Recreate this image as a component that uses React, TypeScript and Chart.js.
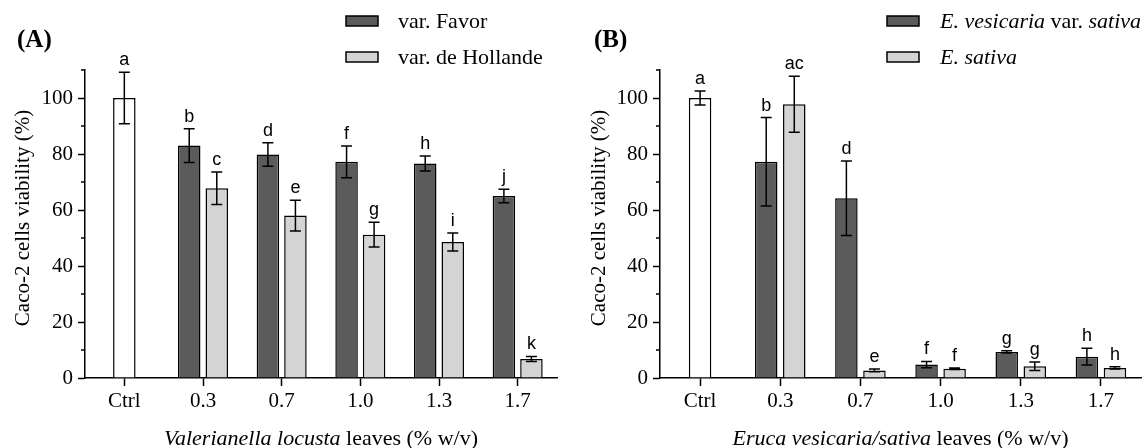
import React, { useEffect, useRef } from 'react';
import { Chart, registerables } from 'chart.js';

Chart.register(...registerables);

// ---------- data ----------
const CATEGORIES = ['Ctrl', '0.3', '0.7', '1.0', '1.3', '1.7'];

// Panel A – Valerianella locusta
const A_CTRL = 100;
const A_CTRL_SD = 9.2;
const A_FAVOR = [83.0, 79.8, 77.2, 76.6, 65.0];
const A_FAVOR_SD = [6.0, 4.2, 5.7, 2.7, 2.4];
const A_HOLLANDE = [67.8, 58.0, 51.2, 48.6, 6.8];
const A_HOLLANDE_SD = [5.8, 5.5, 4.4, 3.2, 0.9];
const A_CTRL_LETTER = 'a';
const A_FAVOR_LETTERS = ['b', 'd', 'f', 'h', 'j'];
const A_HOLLANDE_LETTERS = ['c', 'e', 'g', 'i', 'k'];

// Panel B – Eruca vesicaria / sativa
const B_CTRL = 100;
const B_CTRL_SD = 2.5;
const B_VESICARIA = [77.2, 64.2, 4.8, 9.3, 7.6];
const B_VESICARIA_SD = [15.8, 13.3, 1.1, 0.4, 3.0];
const B_SATIVA = [97.8, 2.7, 3.3, 4.2, 3.6];
const B_SATIVA_SD = [10.0, 0.5, 0.3, 1.5, 0.4];
const B_CTRL_LETTER = 'a';
const B_VESICARIA_LETTERS = ['b', 'd', 'f', 'g', 'h'];
const B_SATIVA_LETTERS = ['ac', 'e', 'f', 'g', 'h'];

const Y_MIN = 0;
const Y_MAX = 110;
const Y_STEP = 10;
const Y_LABEL_STEP = 20;

// ---------- styles ----------
const SERIF = "'Liberation Serif', 'Times New Roman', serif";
const SANS = "'Liberation Sans', Arial, sans-serif";
const CTRL_COLOR = '#ffffff';
const DARK_COLOR = '#5b5b5b';
const LIGHT_COLOR = '#d4d4d4';

type Seg = { t: string; i: boolean };

interface PanelCfg {
  tag: string;
  ctrl: number;
  ctrlSd: number;
  ctrlLetter: string;
  s1: number[];
  s1Sd: number[];
  s1Letters: string[];
  s2: number[];
  s2Sd: number[];
  s2Letters: string[];
  legend1: Seg[];
  legend2: Seg[];
  xTitle: Seg[];
  yTitle: string;
  axisLeft: number;
  padRight: number;
  tagX: number;
  yTitleX: number;
  legendBoxX: number;
  legendTextX: number;
}

const PANEL_A: PanelCfg = {
  tag: '(A)',
  ctrl: A_CTRL,
  ctrlSd: A_CTRL_SD,
  ctrlLetter: A_CTRL_LETTER,
  s1: A_FAVOR,
  s1Sd: A_FAVOR_SD,
  s1Letters: A_FAVOR_LETTERS,
  s2: A_HOLLANDE,
  s2Sd: A_HOLLANDE_SD,
  s2Letters: A_HOLLANDE_LETTERS,
  legend1: [{ t: 'var. Favor', i: false }],
  legend2: [{ t: 'var. de Hollande', i: false }],
  xTitle: [
    { t: 'Valerianella locusta', i: true },
    { t: ' leaves (% w/v)', i: false },
  ],
  yTitle: 'Caco-2 cells viability (%)',
  axisLeft: 85,
  padRight: 17,
  tagX: 17,
  yTitleX: 23,
  legendBoxX: 346,
  legendTextX: 398,
};

const PANEL_B: PanelCfg = {
  tag: '(B)',
  ctrl: B_CTRL,
  ctrlSd: B_CTRL_SD,
  ctrlLetter: B_CTRL_LETTER,
  s1: B_VESICARIA,
  s1Sd: B_VESICARIA_SD,
  s1Letters: B_VESICARIA_LETTERS,
  s2: B_SATIVA,
  s2Sd: B_SATIVA_SD,
  s2Letters: B_SATIVA_LETTERS,
  legend1: [
    { t: 'E. vesicaria', i: true },
    { t: ' var. ', i: false },
    { t: 'sativa', i: true },
  ],
  legend2: [{ t: 'E. sativa', i: true }],
  xTitle: [
    { t: 'Eruca vesicaria/sativa', i: true },
    { t: ' leaves (% w/v)', i: false },
  ],
  yTitle: 'Caco-2 cells viability (%)',
  axisLeft: 86,
  padRight: 7,
  tagX: 20,
  yTitleX: 25,
  legendBoxX: 313,
  legendTextX: 366,
};

const W = 574;
const H = 448;

function drawSegs(ctx: CanvasRenderingContext2D, segs: Seg[], x: number, y: number, size: number, center: boolean) {
  const fontOf = (s: Seg) => `${s.i ? 'italic ' : ''}${size}px ${SERIF}`;
  let total = 0;
  segs.forEach((s) => {
    ctx.font = fontOf(s);
    total += ctx.measureText(s.t).width;
  });
  let cx = center ? x - total / 2 : x;
  ctx.textAlign = 'left';
  segs.forEach((s) => {
    ctx.font = fontOf(s);
    ctx.fillText(s.t, cx, y);
    cx += ctx.measureText(s.t).width;
  });
}

function makePlugin(cfg: PanelCfg, errors: (number | null)[][], letters: (string | null)[][]) {
  return {
    id: 'panelDecor',
    afterDatasetsDraw(chart: any) {
      const ctx: CanvasRenderingContext2D = chart.ctx;
      const ys = chart.scales.y;
      ctx.save();
      ctx.strokeStyle = '#000';
      ctx.lineWidth = 1.5;
      chart.data.datasets.forEach((ds: any, di: number) => {
        const meta = chart.getDatasetMeta(di);
        meta.data.forEach((bar: any, i: number) => {
          const v = ds.data[i];
          const sd = errors[di][i];
          if (v == null || sd == null) return;
          const top = ys.getPixelForValue(v + sd);
          const bot = ys.getPixelForValue(v - sd);
          const x = bar.x;
          ctx.beginPath();
          ctx.moveTo(x, top);
          ctx.lineTo(x, bot);
          ctx.moveTo(x - 5.5, top);
          ctx.lineTo(x + 5.5, top);
          ctx.moveTo(x - 5.5, bot);
          ctx.lineTo(x + 5.5, bot);
          ctx.stroke();
          const letter = letters[di][i];
          if (letter) {
            ctx.fillStyle = '#000';
            ctx.font = `18px ${SANS}`;
            ctx.textAlign = 'center';
            ctx.textBaseline = 'alphabetic';
            ctx.fillText(letter, x, top - 7);
          }
        });
      });
      ctx.restore();
    },
    afterDraw(chart: any) {
      const ctx: CanvasRenderingContext2D = chart.ctx;
      const ys = chart.scales.y;
      const area = chart.chartArea;
      ctx.save();
      // minor y ticks
      ctx.strokeStyle = '#000';
      ctx.lineWidth = 1.5;
      for (let v = Y_MIN + Y_STEP; v <= Y_MAX; v += Y_LABEL_STEP) {
        const py = ys.getPixelForValue(v);
        ctx.beginPath();
        ctx.moveTo(area.left - 4, py);
        ctx.lineTo(area.left, py);
        ctx.stroke();
      }
      ctx.fillStyle = '#000';
      // panel tag
      ctx.font = `bold 25px ${SERIF}`;
      ctx.textAlign = 'left';
      ctx.textBaseline = 'middle';
      ctx.fillText(cfg.tag, cfg.tagX, 41);
      // legend
      const ds = chart.data.datasets;
      const rows = [
        { segs: cfg.legend1, color: ds[1].backgroundColor, y: 21 },
        { segs: cfg.legend2, color: ds[2].backgroundColor, y: 57 },
      ];
      rows.forEach((r) => {
        ctx.fillStyle = r.color;
        ctx.fillRect(cfg.legendBoxX, r.y - 5, 32, 10);
        ctx.strokeStyle = '#000';
        ctx.lineWidth = 1.5;
        ctx.strokeRect(cfg.legendBoxX, r.y - 5, 32, 10);
        ctx.fillStyle = '#000';
        ctx.textBaseline = 'middle';
        drawSegs(ctx, r.segs, cfg.legendTextX, r.y + 1, 22, false);
      });
      // x title
      ctx.textBaseline = 'alphabetic';
      drawSegs(ctx, cfg.xTitle, (area.left + area.right) / 2, 445, 22, true);
      // y title
      ctx.translate(cfg.yTitleX, 218);
      ctx.rotate(-Math.PI / 2);
      ctx.font = `21px ${SERIF}`;
      ctx.textAlign = 'center';
      ctx.textBaseline = 'middle';
      ctx.fillText(cfg.yTitle, 0, 0);
      ctx.restore();
    },
  };
}

function Panel({ cfg, left }: { cfg: PanelCfg; left: number }) {
  const ref = useRef<HTMLCanvasElement>(null);

  useEffect(() => {
    if (!ref.current) return;
    const nulls = cfg.s1.map(() => null);
    const ctrlData = [cfg.ctrl, ...nulls];
    const s1Data = [null, ...cfg.s1];
    const s2Data = [null, ...cfg.s2];
    const errors = [
      [cfg.ctrlSd, ...nulls],
      [null, ...cfg.s1Sd],
      [null, ...cfg.s2Sd],
    ];
    const letters = [
      [cfg.ctrlLetter, ...nulls],
      [null, ...cfg.s1Letters],
      [null, ...cfg.s2Letters],
    ];
    const common = {
      borderColor: '#000',
      borderWidth: 1.5,
      categoryPercentage: 0.7,
      barPercentage: 0.82,
      maxBarThickness: 22.5,
    };
    const chart = new Chart(ref.current, {
      type: 'bar',
      data: {
        labels: CATEGORIES,
        datasets: [
          { label: 'Ctrl', data: ctrlData, backgroundColor: CTRL_COLOR, ...common },
          { label: 's1', data: s1Data, backgroundColor: DARK_COLOR, ...common },
          { label: 's2', data: s2Data, backgroundColor: LIGHT_COLOR, ...common },
        ],
      } as any,
      options: {
        animation: false,
        responsive: false,
        devicePixelRatio: 1,
        skipNull: true,
        layout: { padding: { top: 70, right: cfg.padRight, left: 0, bottom: 0 } },
        plugins: {
          legend: { display: false },
          tooltip: { enabled: false },
          title: { display: false },
        },
        scales: {
          x: {
            type: 'category',
            offset: true,
            grid: {
              offset: false,
              drawOnChartArea: false,
              drawTicks: true,
              tickLength: 8,
              tickWidth: 1.5,
              tickColor: '#000',
            },
            border: { display: true, color: '#000', width: 1.5 },
            ticks: {
              color: '#000',
              font: { family: SERIF, size: 21 },
              padding: 3,
              maxRotation: 0,
              autoSkip: false,
            },
            afterFit: (s: any) => {
              s.height = 70;
            },
          },
          y: {
            min: Y_MIN,
            max: Y_MAX,
            grid: {
              drawOnChartArea: false,
              drawTicks: true,
              tickLength: 7,
              tickWidth: 1.5,
              tickColor: (c: any) =>
                c.tick && c.tick.value % Y_LABEL_STEP === 0 ? '#000' : 'rgba(0,0,0,0)',
            },
            border: { display: true, color: '#000', width: 1.5 },
            ticks: {
              stepSize: Y_STEP,
              color: '#000',
              font: { family: SERIF, size: 21 },
              padding: 5,
              callback: (v: any) => (Number(v) % Y_LABEL_STEP === 0 ? String(v) : ''),
            },
            afterFit: (s: any) => {
              s.width = cfg.axisLeft;
            },
          },
        },
      } as any,
      plugins: [makePlugin(cfg, errors, letters)],
    });
    return () => chart.destroy();
  }, [cfg]);

  return (
    <canvas
      ref={ref}
      width={W}
      height={H}
      style={{ position: 'absolute', left, top: 0, width: W, height: H, display: 'block' }}
    />
  );
}

export default function App() {
  return (
    <div
      style={{
        position: 'absolute',
        left: 0,
        top: 0,
        width: 1148,
        height: 448,
        background: '#fff',
        overflow: 'hidden',
      }}
    >
      <Panel cfg={PANEL_A} left={0} />
      <Panel cfg={PANEL_B} left={574} />
    </div>
  );
}
